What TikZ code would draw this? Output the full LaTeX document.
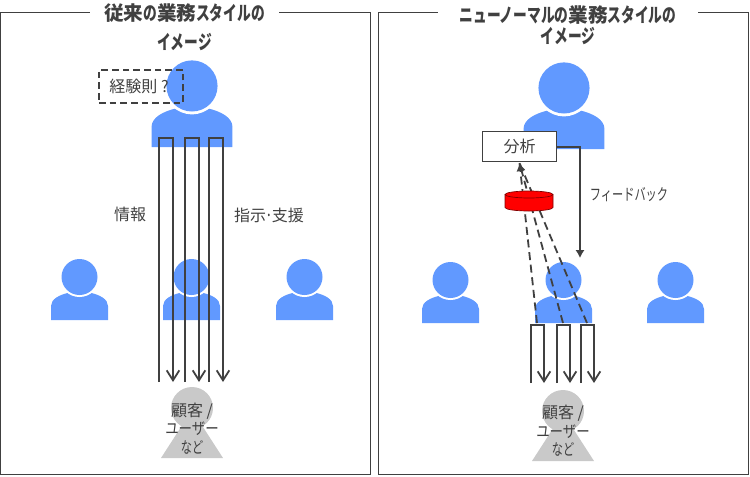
\documentclass[tikz,border=0pt]{standalone}
\usepackage{fontspec}
\usepackage{xcolor}
\usepackage{tikz}
\usetikzlibrary{arrows.meta,calc}
\setmainfont{Noto Sans CJK JP}
\newfontfamily\kanafont[FakeStretch=0.7]{Noto Sans CJK JP}
\newfontfamily\widekana[FakeStretch=0.84]{Noto Sans CJK JP}
\newcommand{\kn}[1]{{\kanafont #1}}
\definecolor{inkgray}{HTML}{404040}
\definecolor{personblue}{HTML}{6199FF}
\definecolor{custgray}{HTML}{C9C9C9}
\newcommand{\person}[3]{%
  \begin{scope}[shift={(#1,#2)},scale=#3]
    \fill[personblue] (-28.5,0)--(-28.5,-14) .. controls (-28.5,-21) and (-20,-25) .. (-12,-27)
      --(12,-27) .. controls (20,-25) and (28.5,-21) .. (28.5,-14)--(28.5,0)--cycle;
    \fill[white] (0,-43) circle (20);
    \fill[personblue] (0,-43) circle (18);
  \end{scope}}
\newcommand{\customer}[2]{%
  \fill[custgray] (#1,#2-71)++(0,21) circle (21);
  \fill[custgray] (#1-31,#2)--(#1,#2-48)--(#1+31,#2)--cycle;}
\tikzset{
  label/.style={text=inkgray,font=\fontsize{12}{14}\selectfont,inner sep=0pt},
  custlabel/.style={label,align=center,font=\fontsize{12}{13.9}\selectfont},
  titlelabel/.style={fill=white,text=inkgray,align=center,inner sep=0pt},
  frame/.style={draw=inkgray,line width=.7pt},
  flow/.style={draw=inkgray,line width=1.35pt,-{Straight Barb[length=7.5pt,width=9.5pt,line width=1.35pt]}},
  dashflow/.style={draw=inkgray,line width=1.35pt,dash pattern=on 6pt off 3.5pt},
  dbshape/.style={fill=red,draw=red!50!black,line width=.5pt},
}
\begin{document}
\begin{tikzpicture}[x=.75pt,y=-.75pt]
  \useasboundingbox (0,0) rectangle (750,476);
  % frames
  \draw[frame] (.5,12) rectangle (370,474);
  \draw[frame] (378,12) rectangle (748,474);
  \node[titlelabel,minimum width=141.75pt,font=\fontsize{14.7}{21.8}\selectfont\bfseries] (titleold) at (184.5,27.5)
    {従来\kn{の}業務\kn{スタイルの}\\\kn{イメージ}};
  \node[titlelabel,minimum width=195pt,font=\fontsize{14.7}{15.8}\selectfont\bfseries] (titlenew) at (568,25.5)
    {\kn{ニューノーマルの}業務\kn{スタイルの}\\\kn{イメージ}};

  % people
  \person{192}{147}{1.42}
  \person{564}{149}{1.42}
  \foreach \x in {79.5,191.5,304.5}{\person{\x}{320}{1}}
  \foreach \x in {450.5,563.5,675.5}{\person{\x}{323}{1}}
  \customer{192}{458}
  \customer{563}{461}

  % left side
  \node[draw=inkgray,line width=1.35pt,dash pattern=on 5pt off 3pt,minimum width=63pt,minimum height=24.7pt,inner sep=0pt] (rule) at (141,86.5) {};
  \node[label] (ruletext) at (139,86.5) {経験則 ?};
  \coordinate (ltop) at (0,138);
  \foreach \i/\a/\b in {1/159/173,2/185/199,3/209/223}{
    \coordinate (ls\i) at (\a,382);
    \coordinate (le\i) at (\b,382);
    \draw[flow] (ls\i)--(ls\i|-ltop)--(le\i|-ltop)--(le\i);
  }
  \node[label] (info) at (130,214) {情報};
  \node[label] (order) at (269,215) {指示\kn{･}支援};
  \node[custlabel] (custold) at (192,428.5) {顧客 /\\{\widekana ユーザー}\\\kn{など}};

  % right side
  \node[draw=inkgray,fill=white,line width=.8pt,minimum width=56pt,minimum height=23pt,inner sep=0pt,label] (ana) at (519.5,146.5) {分析};
  \coordinate (apex) at (519.5,163);
  \coordinate (rtop) at (0,325);
  \foreach \i/\a/\b/\c in {1/531/544/537,2/557/570/563,3/581/594/587}{
    \coordinate (rs\i) at (\a,383);
    \coordinate (re\i) at (\b,383);
    \coordinate (dash\i) at (\c,323);
    \draw[flow] (rs\i)--(rs\i|-rtop)--(re\i|-rtop)--(re\i);
    \draw[dashflow] (dash\i)--(apex);
  }
  \draw[inkgray,-{Latex[length=6pt,width=7pt]},line width=1pt] ($(apex)+(1.5,8)$)--(apex);
  \draw[dbshape] (505,194.5)--(505,207.5) arc[start angle=180,end angle=0,x radius=24,y radius=3.5]--(553,194.5);
  \draw[dbshape] (529,194.5) ellipse (24 and 3.5);
  \coordinate (fbend) at (580,258);
  \draw[draw=inkgray,line width=1.5pt,-{Latex[length=6pt,width=7pt]}] (ana.east)-|(fbend);
  \node[label] (fb) at (629,195) {\kn{フィードバック}};
  \node[custlabel] (custnew) at (563,431) {顧客 /\\{\widekana ユーザー}\\\kn{など}};
\end{tikzpicture}
\end{document}
